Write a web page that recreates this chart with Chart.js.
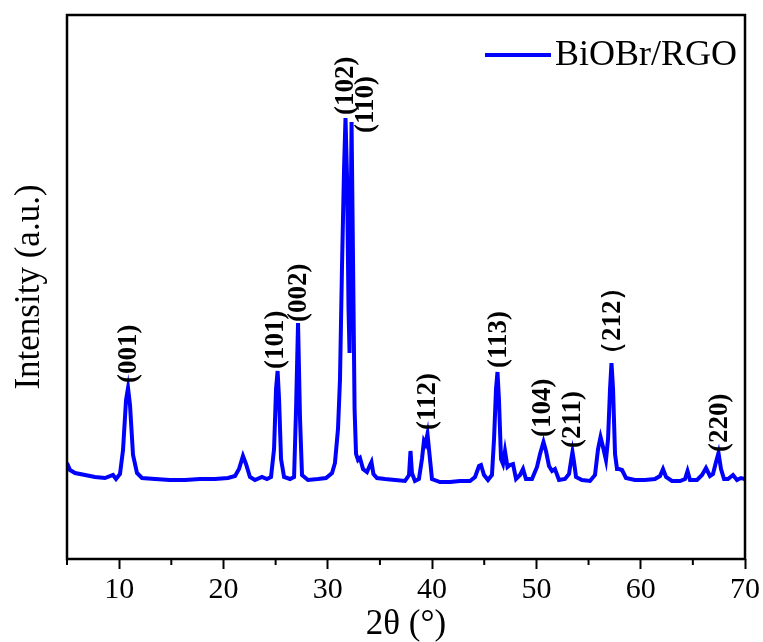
<!DOCTYPE html>
<html>
<head>
<meta charset="utf-8">
<script src="https://cdn.jsdelivr.net/npm/chart.js@4/dist/chart.umd.min.js"></script>
<style>
  html, body { margin: 0; padding: 0; background: #fff; }
  #wrap { width: 763px; height: 642px; position: relative; }
</style>
</head>
<body>
<div id="wrap"><canvas id="c" width="763" height="642"></canvas></div>
<script>
// ---- Data ----
const seriesName = 'BiOBr/RGO';
const twoTheta = [5.00,5.29,5.77,6.73,7.68,8.64,9.41,9.70,10.08,10.37,10.66,10.85,11.04,11.33,11.71,12.19,13.44,14.87,16.31,17.75,19.19,20.43,21.11,21.49,21.87,22.16,22.54,23.02,23.69,24.17,24.56,24.85,25.04,25.19,25.33,25.52,25.81,26.38,26.77,26.96,27.15,27.34,27.53,28.10,29.06,29.83,30.41,30.69,30.98,31.17,31.36,31.56,31.70,31.85,31.99,32.09,32.19,32.28,32.42,32.57,32.71,32.90,33.09,33.38,33.76,34.05,34.19,34.38,34.72,35.49,36.45,37.40,37.79,37.93,38.07,38.36,38.74,39.03,39.22,39.37,39.56,39.75,39.99,40.76,41.72,42.68,43.64,44.12,44.50,44.69,44.98,45.36,45.74,45.94,46.13,46.27,46.41,46.61,46.80,46.99,47.23,47.47,47.76,48.05,48.43,48.72,49.00,49.58,50.06,50.35,50.68,50.92,51.21,51.50,51.78,52.17,52.74,53.13,53.32,53.46,53.61,53.80,54.37,55.14,55.62,55.91,56.15,56.39,56.67,56.87,57.06,57.20,57.35,57.54,57.73,57.92,58.21,58.59,59.45,60.41,61.37,61.85,62.14,62.43,63.00,63.77,64.25,64.49,64.73,65.40,65.88,66.26,66.64,66.93,67.22,67.46,67.70,67.99,68.37,68.85,69.23,69.61,70.00];
const intensity = [96,89,86,84,82,81,84,80,85,109,159,171,154,104,86,81,80,79,79,80,80,81,83,90,103,95,82,79,82,80,82,110,170,188,160,100,82,80,82,150,236,140,84,79,80,81,86,96,130,179,290,390,441,380,250,206,330,437,300,150,105,99,101,90,87,94,97,85,81,80,79,78,84,108,86,78,80,100,118,115,125,105,80,77,77,78,78,82,93,94,84,79,84,120,170,187,160,100,95,108,92,94,95,80,84,90,80,80,92,105,117,108,93,88,90,79,80,85,98,107,97,82,79,78,84,110,122,112,99,120,170,196,170,105,90,90,89,81,79,79,80,83,90,82,78,78,80,88,79,79,84,91,83,85,97,106,90,80,80,84,79,81,80];

const peakLabels = ['(001)','(101)','(002)','(102)','(110)','(112)','(113)','(104)','(211)','（212）','(220)'];
const peakLabelX = [10.85,24.94,27.15,31.65,33.57,39.55,46.32,50.54,53.41,57.25,67.50];
const peakLabelBase = [176,190,237,444,426,129,191,122,111,191,107];

const xMajorTicks = [10,20,30,40,50,60,70];
const xMinorTicks = [5,15,25,35,45,55,65];
const xRange = [5,70];
const yRange = [0,544];

const xTitle = '2θ (°)';
const yTitle = 'Intensity (a.u.)';

const SERIF = '"Liberation Serif", "Times New Roman", serif';

const framePlugin = {
  id: 'frame',
  afterDraw(chart) {
    const {ctx, chartArea: a, scales} = chart;
    ctx.save();
    ctx.strokeStyle = '#000';
    ctx.lineWidth = 2.5;
    ctx.strokeRect(a.left, a.top, a.right - a.left, a.bottom - a.top);
    ctx.lineWidth = 2;
    xMinorTicks.forEach(v => {
      const px = scales.x.getPixelForValue(v);
      ctx.beginPath();
      ctx.moveTo(px, a.bottom);
      ctx.lineTo(px, a.bottom + 6);
      ctx.stroke();
    });
    ctx.fillStyle = '#000';
    ctx.font = 'bold 27px ' + SERIF;
    ctx.textAlign = 'left';
    ctx.textBaseline = 'middle';
    peakLabels.forEach((t, i) => {
      const px = scales.x.getPixelForValue(peakLabelX[i]);
      const py = scales.y.getPixelForValue(peakLabelBase[i]);
      ctx.save();
      ctx.translate(px, py);
      ctx.rotate(-Math.PI / 2);
      ctx.fillText(t, 0, 1);
      ctx.restore();
    });
    const ly = a.top + 40;
    const lx = a.right - 260;
    ctx.strokeStyle = '#0000ff';
    ctx.lineWidth = 4;
    ctx.beginPath();
    ctx.moveTo(lx, ly);
    ctx.lineTo(lx + 66, ly);
    ctx.stroke();
    ctx.fillStyle = '#000';
    ctx.font = '36px ' + SERIF;
    ctx.textBaseline = 'middle';
    ctx.fillText(seriesName, lx + 70, ly + 1);
    ctx.restore();
  }
};

new Chart(document.getElementById('c'), {
  type: 'line',
  data: {
    datasets: [{
      label: seriesName,
      data: twoTheta.map((x, i) => ({x, y: intensity[i]})),
      borderColor: '#0000ff',
      borderWidth: 4,
      pointRadius: 0,
      tension: 0,
      fill: false
    }]
  },
  options: {
    responsive: false,
    animation: false,
    events: [],
    layout: { padding: { top: 15, right: 18, left: 0, bottom: 0 } },
    plugins: { legend: { display: false }, tooltip: { enabled: false } },
    scales: {
      x: {
        type: 'linear',
        min: xRange[0], max: xRange[1],
        afterBuildTicks: s => { s.ticks = xMajorTicks.map(v => ({value: v})); },
        afterFit: s => { s.height = 83; },
        grid: { drawOnChartArea: false, tickLength: 10, tickWidth: 2, tickColor: '#000' },
        border: { display: false },
        ticks: { color: '#000', font: { family: SERIF, size: 30 }, padding: 3, maxRotation: 0 },
        title: { display: true, text: xTitle, color: '#000', font: { family: SERIF, size: 35, lineHeight: 1 }, padding: { top: 0, bottom: 0 } }
      },
      y: {
        min: yRange[0], max: yRange[1],
        afterFit: s => { s.width = 67; },
        grid: { display: false },
        border: { display: false },
        ticks: { display: false },
        title: { display: true, text: yTitle, color: '#000', font: { family: SERIF, size: 35, lineHeight: 1 }, padding: { top: 12, bottom: 0 } }
      }
    }
  },
  plugins: [framePlugin]
});
</script>
</body>
</html>
